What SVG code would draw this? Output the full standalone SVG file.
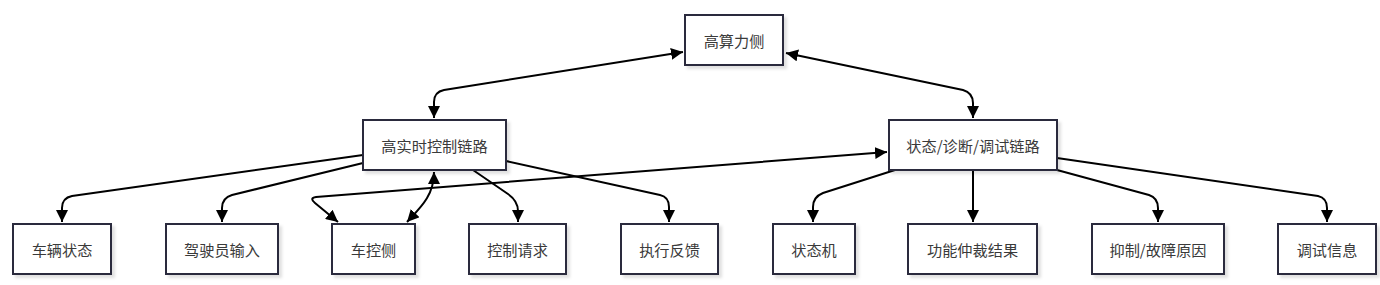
<svg xmlns="http://www.w3.org/2000/svg" width="1380" height="285" viewBox="0 0 1380 285">
<style>
.box{fill:#fff;stroke:#2c2b3e;stroke-width:2;filter:url(#sh)}
.lbl{font-family:"Noto Sans CJK SC","Noto Sans",sans-serif;font-size:15.2px;fill:#3a3a3a;text-anchor:middle;dominant-baseline:central}
.edge{fill:none;stroke:#000;stroke-width:2}
.uni{marker-end:url(#ah)}
.bi{marker-start:url(#ah);marker-end:url(#ah)}
</style>
<defs>
<filter id="sh" x="-10%" y="-10%" width="130%" height="140%">
<feDropShadow dx="3" dy="3" stdDeviation="1.5" flood-color="#000" flood-opacity="0.12"/>
</filter>
<marker id="ah" viewBox="0 0 10 10" refX="10" refY="5" markerWidth="12" markerHeight="12" markerUnits="userSpaceOnUse" orient="auto-start-reverse">
<path d="M0,0 L10,5 L0,10 z" fill="#000"/>
</marker>
</defs>
<rect width="1380" height="285" fill="#fff"/>
<g id="connectors">
<path class="edge bi" d="M434,118 L434,102 Q434,92 444,90 L683,52"/>
<path class="edge bi" d="M786,53 L963,90 Q973,93 973,103 L973,118"/>
<path class="edge uni" d="M363,155 L72,196 Q62,198 62,208 L62,222"/>
<path class="edge uni" d="M363,163 L232,195 Q222,198 222,208 L222,222"/>
<path class="edge uni" d="M473,170 L508,194 Q518,201 518,211 L518,222"/>
<path class="edge uni" d="M506,161 L660,195 Q669,197 669,207 L669,222"/>
<path class="edge bi" d="M434,172 C434,196 420,208 407,222"/>
<path class="edge bi" d="M338,222 L315,203 Q309,198 316,197 L887,152"/>
<path class="edge uni" d="M895,170 L823,193 Q813,197 813,207 L813,222"/>
<path class="edge uni" d="M973,170 L973,222"/>
<path class="edge uni" d="M1057,170 L1149,195 Q1158,198 1158,208 L1158,222"/>
<path class="edge uni" d="M1057,158 L1318,196 Q1327,198 1327,208 L1327,222"/>
</g>
<g id="n-top"><rect class="box" x="685" y="15" width="98" height="50"/><text class="lbl" x="734" y="40">高算力侧</text></g>
<g id="n-rt"><rect class="box" x="363" y="120" width="143" height="50"/><text class="lbl" x="434.5" y="145">高实时控制链路</text></g>
<g id="n-diag"><rect class="box" x="889" y="120" width="168" height="50"/><text class="lbl" x="973" y="145">状态/诊断/调试链路</text></g>
<g id="n-veh"><rect class="box" x="13" y="224" width="98" height="50"/><text class="lbl" x="62" y="249">车辆状态</text></g>
<g id="n-drv"><rect class="box" x="166" y="224" width="112" height="50"/><text class="lbl" x="222" y="249">驾驶员输入</text></g>
<g id="n-ctl"><rect class="box" x="332" y="224" width="83" height="50"/><text class="lbl" x="373.5" y="249">车控侧</text></g>
<g id="n-req"><rect class="box" x="469" y="224" width="97" height="50"/><text class="lbl" x="517.5" y="249">控制请求</text></g>
<g id="n-fb"><rect class="box" x="621" y="224" width="97" height="50"/><text class="lbl" x="669.5" y="249">执行反馈</text></g>
<g id="n-sm"><rect class="box" x="773" y="224" width="82" height="50"/><text class="lbl" x="814" y="249">状态机</text></g>
<g id="n-arb"><rect class="box" x="908" y="224" width="129" height="50"/><text class="lbl" x="972.5" y="249">功能仲裁结果</text></g>
<g id="n-inh"><rect class="box" x="1092" y="224" width="132" height="50"/><text class="lbl" x="1158" y="249">抑制/故障原因</text></g>
<g id="n-dbg"><rect class="box" x="1278" y="224" width="98" height="50"/><text class="lbl" x="1327" y="249">调试信息</text></g>
</svg>
